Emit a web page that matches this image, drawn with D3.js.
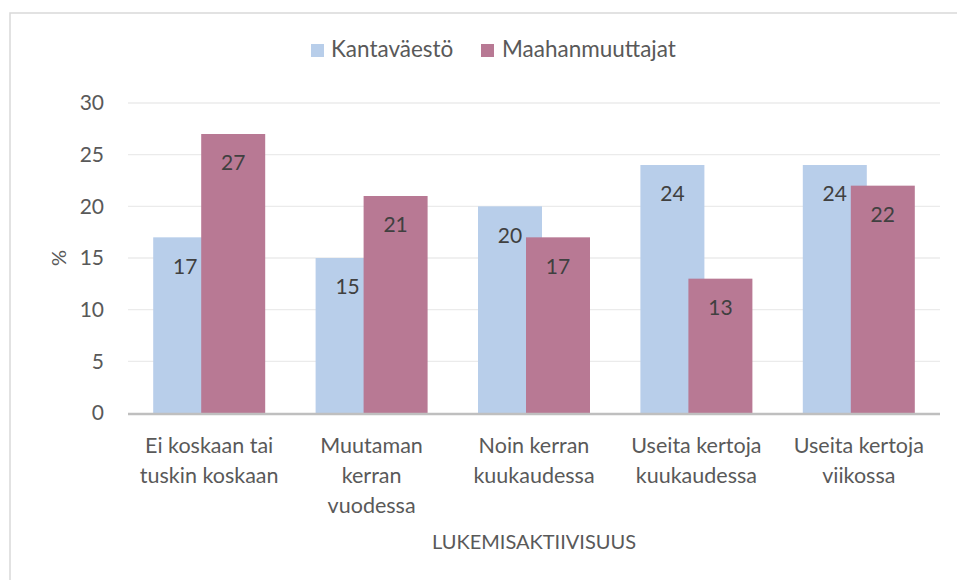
<!DOCTYPE html>
<html><head><meta charset="utf-8">
<script src="https://cdn.jsdelivr.net/npm/d3@7"></script>
<style>body{margin:0;background:#fff}svg{display:block}</style>
</head><body>
<script>
const categories = [["Ei koskaan tai","tuskin koskaan"],["Muutaman","kerran","vuodessa"],["Noin kerran","kuukaudessa"],["Useita kertoja","kuukaudessa"],["Useita kertoja","viikossa"]];
const seriesNames = ["Kantaväestö","Maahanmuuttajat"];
const kanta = [17,15,20,24,24];
const maahan = [27,21,17,13,22];
const yTicks = [0,5,10,15,20,25,30];
const colors = ["#B8CEEA","#B87994"];
const font = "Lato, 'Open Sans', sans-serif";

const W=957,H=580;
const svg=d3.select("body").append("svg").attr("width",W).attr("height",H);
svg.append("rect").attr("x",10).attr("y",13).attr("width",W).attr("height",H).attr("fill","#fff").attr("stroke","#D9D9D9").attr("stroke-width",1.5);

const pLeft=128,pRight=940,pTop=103,pBottom=413;
const x=d3.scaleBand().domain(d3.range(categories.length)).range([pLeft,pRight]).paddingInner(0).paddingOuter(0);
const y=d3.scaleLinear().domain([0,30]).range([pBottom,pTop]);

// gridlines
svg.append("g").selectAll("line").data(yTicks.filter(d=>d>0)).join("line")
 .attr("x1",pLeft).attr("x2",pRight).attr("y1",d=>y(d)).attr("y2",d=>y(d))
 .attr("stroke","#EBEBEB").attr("stroke-width",1.3);

// y tick labels
svg.append("g").selectAll("text").data(yTicks).join("text")
 .attr("x",104).attr("y",d=>y(d)).attr("dy","0.35em").attr("text-anchor","end")
 .attr("font-family",font).attr("font-size",21).attr("fill","#595959").text(d=>d);

const bw=64, ov=16;
const groupW=bw*2-ov;
const data=[kanta,maahan];
data.forEach((vals,si)=>{
  const g=svg.append("g");
  g.selectAll("rect").data(vals).join("rect")
   .attr("x",(d,i)=>x(i)+x.bandwidth()/2-groupW/2+si*(bw-ov))
   .attr("width",bw).attr("y",d=>y(d)).attr("height",d=>y(0)-y(d))
   .attr("fill",colors[si]);
});
data.forEach((vals,si)=>{
  svg.append("g").selectAll("text").data(vals).join("text")
   .attr("x",(d,i)=>x(i)+x.bandwidth()/2-groupW/2+si*(bw-ov)+bw/2)
   .attr("y",d=>y(d)+29).attr("dy","0.35em").attr("text-anchor","middle")
   .attr("font-family",font).attr("font-size",21).attr("fill","#404040").text(d=>d);
});

// axis line
svg.append("line").attr("x1",pLeft).attr("x2",pRight).attr("y1",pBottom+1).attr("y2",pBottom+1)
 .attr("stroke","#BFBFBF").attr("stroke-width",2.5);

// category labels
categories.forEach((lines,i)=>{
  const t=svg.append("text").attr("text-anchor","middle").attr("font-family",font)
   .attr("font-size",21.5).attr("fill","#595959");
  lines.forEach((l,j)=>t.append("tspan").attr("x",x(i)+x.bandwidth()/2).attr("y",453+j*30).text(l));
});

// axis titles
svg.append("text").attr("x",534).attr("y",549).attr("text-anchor","middle").attr("font-family",font)
 .attr("font-size",20).attr("fill","#595959").text("LUKEMISAKTIIVISUUS");
svg.append("text").attr("transform","translate(66,258) rotate(-90)").attr("text-anchor","middle")
 .attr("font-family",font).attr("font-size",20).attr("fill","#595959").text("%");

// legend
const leg=[{x:311,tx:331},{x:481,tx:502}];
seriesNames.forEach((n,i)=>{
  svg.append("rect").attr("x",leg[i].x).attr("y",44).attr("width",13).attr("height",13).attr("fill",colors[i]);
  svg.append("text").attr("x",leg[i].tx).attr("y",57).attr("font-family",font)
   .attr("font-size",22.5).attr("fill","#595959").text(n);
});
</script>
</body></html>
